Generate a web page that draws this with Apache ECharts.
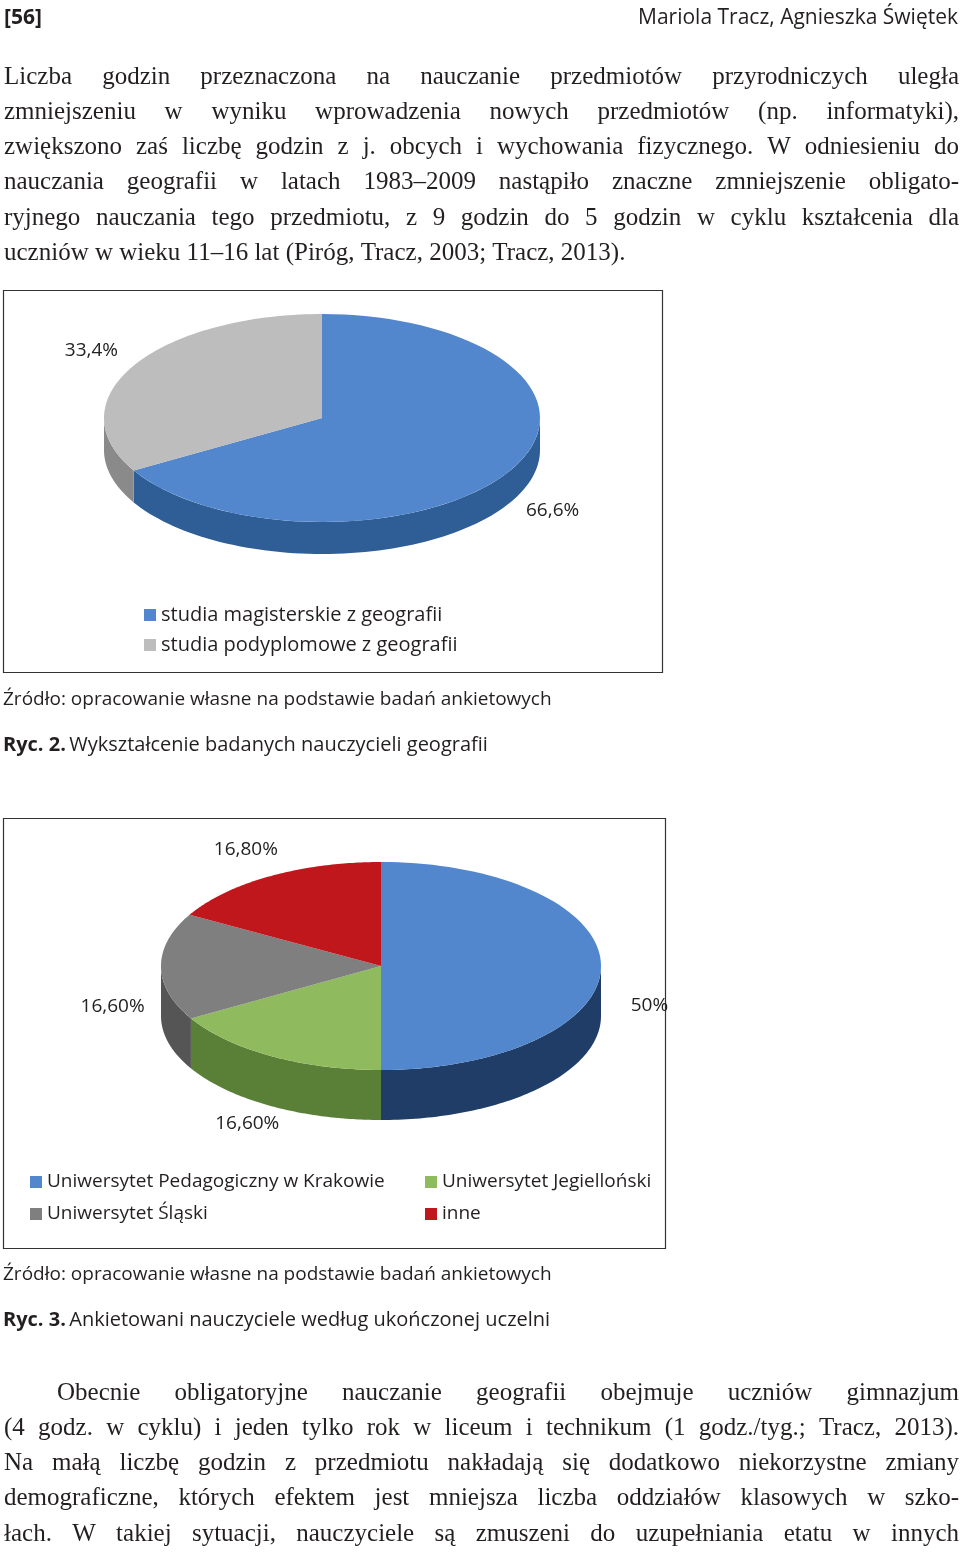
<!DOCTYPE html>
<html><head><meta charset="utf-8">
<script src="https://cdn.jsdelivr.net/npm/echarts@6/dist/echarts.min.js"></script>
<style>html,body{margin:0;padding:0;background:#fff}#c{width:960px;height:1552px}</style>
</head><body><div id="c"></div>
<script>
var pie1Categories = ['studia magisterskie z geografii','studia podyplomowe z geografii'];
var pie1Values = [66.6, 33.4];
var pie1Labels = ['66,6%','33,4%'];
var pie2Categories = ['Uniwersytet Pedagogiczny w Krakowie','Uniwersytet Jegielloński','Uniwersytet Śląski','inne'];
var pie2Values = [50, 16.6, 16.6, 16.8];
var pie2Labels = ['50%','16,60%','16,60%','16,80%'];

var pie1Style = {cx:322, cy:418, rx:218, ry:104, depth:32, top:['#5287CD','#BDBDBD'], side:['#2F5E97','#8A8A8A']};
var pie2Style = {cx:381, cy:966, rx:220, ry:104, depth:50, top:['#5287CD','#8FBA5E','#7F7F7F','#C0171D'], side:['#1F3D66','#5A7F37','#555555','#85101A']};

function makeRender(values, labels, st){
  var total = values.reduce(function(a,b){return a+b;},0);
  return function(params, api){
    var i = params.dataIndex;
    var start = 0; for (var k=0;k<i;k++) start += values[k];
    var a0 = start/total*2*Math.PI, a1 = (start+values[i])/total*2*Math.PI;
    var n = 80, top=[[st.cx,st.cy]], children=[];
    function pt(a,dy){return [st.cx+st.rx*Math.sin(a), st.cy-st.ry*Math.cos(a)+(dy||0)];}
    for (var j=0;j<=n;j++) top.push(pt(a0+(a1-a0)*j/n));
    var s0=Math.max(a0,Math.PI/2), s1=Math.min(a1,3*Math.PI/2);
    if (s1>s0){
      var up=[],dn=[];
      for (var j=0;j<=n;j++){var a=s0+(s1-s0)*j/n; up.push(pt(a)); dn.unshift(pt(a,st.depth));}
      children.push({type:'polygon',shape:{points:up.concat(dn)},style:{fill:st.side[i]},z2:1});
    }
    children.push({type:'polygon',shape:{points:top},style:{fill:st.top[i]},z2:2});
    var m=(a0+a1)/2, s=Math.sin(m), c=Math.cos(m);
    var lx=st.cx+st.rx*1.22*s, ly=st.cy-st.ry*1.3*c+(c<0?st.depth*0.8:0);
    children.push({type:'text',x:lx,y:ly,style:{text:labels[i],font:'19px "Open Sans"',fill:'#222',align:'center',verticalAlign:'middle'},z2:3});
    return {type:'group',children:children};
  };
}

var serif='25px "Liberation Serif"', sans='19px "Open Sans"';
var body1=['Liczba godzin przeznaczona na nauczanie przedmiotów przyrodniczych uległa',
'zmniejszeniu w wyniku wprowadzenia nowych przedmiotów (np. informatyki),',
'zwiększono zaś liczbę godzin z j. obcych i wychowania fizycznego. W odniesieniu do',
'nauczania geografii w latach 1983–2009 nastąpiło znaczne zmniejszenie obligato-',
'ryjnego nauczania tego przedmiotu, z 9 godzin do 5 godzin w cyklu kształcenia dla',
'uczniów w wieku 11–16 lat (Piróg, Tracz, 2003; Tracz, 2013).'];
var body2=['Obecnie obligatoryjne nauczanie geografii obejmuje uczniów gimnazjum',
'(4 godz. w cyklu) i jeden tylko rok w liceum i technikum (1 godz./tyg.; Tracz, 2013).',
'Na małą liczbę godzin z przedmiotu nakładają się dodatkowo niekorzystne zmiany',
'demograficzne, których efektem jest mniejsza liczba oddziałów klasowych w szko-',
'łach. W takiej sytuacji, nauczyciele są zmuszeni do uzupełniania etatu w innych'];
var g=[];
var ctx=document.createElement('canvas').getContext('2d');
function t(x,y,txt,font,align,fill){g.push({type:'text',x:x,y:y,style:{text:txt,font:font,fill:fill||'#231f20',align:align||'left',verticalAlign:'middle'}});}
function just(x0,x1,y,txt,font){
  ctx.font=font; var w=txt.split(' '); var tw=0;
  w.forEach(function(s){tw+=ctx.measureText(s).width;});
  var gap=(x1-x0-tw)/(w.length-1), x=x0;
  w.forEach(function(s){t(x,y,s,font); x+=ctx.measureText(s).width+gap;});
}
t(4,18,'[56]','bold 21px "Open Sans"');
t(958,18,'Mariola Tracz, Agnieszka Świętek','21px "Open Sans"','right');
body1.forEach(function(s,i){ if(i<body1.length-1) just(4,959,77+i*35.3,s,serif); else t(4,77+i*35.3,s,serif);});
body2.forEach(function(s,i){ just(i===0?57:4,959,1393+i*35.3,s,serif);});
g.push({type:'rect',shape:{x:3.5,y:290.5,width:659,height:382},style:{fill:'none',stroke:'#333',lineWidth:1.2}});
g.push({type:'rect',shape:{x:3.5,y:818.5,width:662,height:430},style:{fill:'none',stroke:'#333',lineWidth:1.2}});
function leg(x,y,col,txt,f){g.push({type:'rect',shape:{x:x,y:y-6,width:12,height:12},style:{fill:col}});t(x+17,y,txt,f||sans);}
leg(144,615,pie1Style.top[0],pie1Categories[0],'20px "Open Sans"');
leg(144,645,pie1Style.top[1],pie1Categories[1],'20px "Open Sans"');
leg(30,1182,pie2Style.top[0],pie2Categories[0]);
leg(425,1182,pie2Style.top[1],pie2Categories[1]);
leg(30,1214,pie2Style.top[2],pie2Categories[2]);
leg(425,1214,pie2Style.top[3],pie2Categories[3]);
t(3,700,'Źródło: opracowanie własne na podstawie badań ankietowych',sans);
t(3,1275,'Źródło: opracowanie własne na podstawie badań ankietowych',sans);
var rich={b:{font:'bold 20px "Open Sans"',fill:'#231f20'},n:{font:'20px "Open Sans"',fill:'#231f20'}};
g.push({type:'text',x:3,y:745,style:{rich:rich,text:'{b|Ryc. 2.} {n|Wykształcenie badanych nauczycieli geografii}',verticalAlign:'middle'}});
g.push({type:'text',x:3,y:1320,style:{rich:rich,text:'{b|Ryc. 3.} {n|Ankietowani nauczyciele według ukończonej uczelni}',verticalAlign:'middle'}});

var chart=echarts.init(document.getElementById('c'),null,{renderer:'canvas'});
chart.setOption({
  animation:false,
  graphic:g,
  series:[
    {type:'custom',coordinateSystem:'none',data:pie1Values.map(function(v,i){return {name:pie1Categories[i],value:v};}),renderItem:makeRender(pie1Values,pie1Labels,pie1Style)},
    {type:'custom',coordinateSystem:'none',data:pie2Values.map(function(v,i){return {name:pie2Categories[i],value:v};}),renderItem:makeRender(pie2Values,pie2Labels,pie2Style)}
  ]
});
</script></body></html>
